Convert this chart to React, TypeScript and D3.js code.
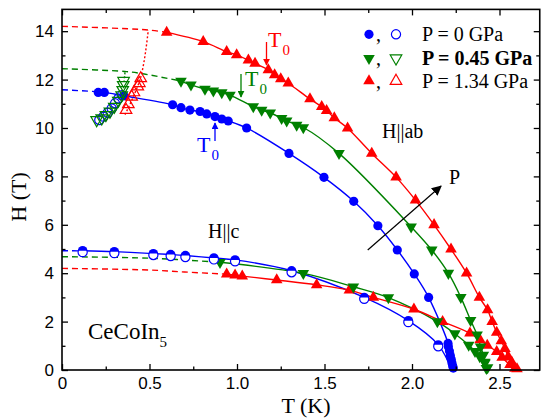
import React, { useEffect, useRef } from 'react';
import * as d3 from 'd3';

type Pt = [number, number]; // [T (K), H (T)]

// H||ab, P = 0 GPa
const abP0: Pt[] = [
  [0.207, 11.47], [0.242, 11.47], [0.354, 11.33], [0.632, 10.96], [0.68, 10.84], [0.731, 10.74],
  [0.789, 10.68], [0.827, 10.58], [0.874, 10.47], [0.913, 10.37], [0.95, 10.29], [1.055, 10.0],
  [1.297, 8.95], [1.497, 7.96], [1.667, 6.97], [1.805, 5.96], [1.916, 4.96], [2.013, 3.97],
  [2.095, 3.0], [2.206, 1.1], [2.208, 0.96], [2.214, 0.78], [2.219, 0.6], [2.224, 0.44],
  [2.228, 0.3], [2.232, 0.18], [2.236, 0.08],
];
const abP0Open: Pt[] = [
  [0.213, 10.33], [0.236, 10.47], [0.261, 10.63], [0.284, 10.81], [0.303, 11.02], [0.322, 11.22], [0.341, 11.36],
];
const abP0Dash: Pt[] = [[0, 11.58], [0.207, 11.5]];

// H||ab, P = 0.45 GPa
const abP045: Pt[] = [
  [0.68, 11.94], [0.737, 11.78], [0.817, 11.61], [0.865, 11.54], [0.913, 11.46], [0.96, 11.36],
  [1.093, 10.88], [1.141, 10.74], [1.19, 10.63], [1.255, 10.4], [1.284, 10.3], [1.341, 10.12],
  [1.379, 10.02], [1.583, 8.95], [1.995, 5.92], [2.113, 4.96], [2.208, 4.0], [2.279, 3.0],
  [2.335, 2.05], [2.372, 1.45], [2.392, 0.96], [2.408, 0.62], [2.417, 0.3], [2.425, 0.07],
];
const abP045Open: Pt[] = [
  [0.198, 10.33], [0.227, 10.4], [0.251, 10.54], [0.274, 10.68], [0.299, 10.88], [0.322, 11.13],
  [0.341, 11.36], [0.347, 11.57], [0.35, 11.78], [0.352, 11.95],
];
const abP045Dash: Pt[] = [[0, 12.45], [0.37, 12.33], [0.47, 12.23], [0.68, 11.94]];
const abP045Dot: Pt[] = [[0.36, 12.3], [0.355, 11.95]];

// H||ab, P = 1.34 GPa
const abP134: Pt[] = [
  [0.598, 13.95], [0.807, 13.57], [0.941, 13.15], [0.998, 13.02], [1.065, 12.8], [1.103, 12.67],
  [1.179, 12.4], [1.215, 12.19], [1.25, 12.03], [1.293, 11.85], [1.417, 11.2], [1.484, 10.88],
  [1.512, 10.72], [1.556, 10.42], [1.632, 9.99], [1.77, 8.95], [1.909, 7.97], [2.02, 7.02],
  [2.126, 6.0], [2.223, 4.99], [2.312, 4.0], [2.385, 3.0], [2.432, 2.48], [2.458, 2.0],
  [2.484, 1.55], [2.51, 1.2], [2.531, 0.88], [2.55, 0.55], [2.57, 0.32], [2.588, 0.07],
];
const abP134Open: Pt[] = [
  [0.366, 10.74], [0.379, 10.98], [0.398, 11.29], [0.411, 11.47], [0.433, 11.71], [0.442, 11.85], [0.45, 12.05],
];
const abP134Dash: Pt[] = [[0, 14.2], [0.493, 14.05], [0.598, 13.95]];
const abP134Dot: Pt[] = [[0.36, 10.55], [0.45, 12.1], [0.493, 14.05]];

// H||c, P = 0 GPa
const cP0: Pt[] = [
  [0.118, 4.93], [0.299, 4.89], [0.522, 4.81], [0.621, 4.77], [0.705, 4.73], [0.868, 4.63],
  [0.989, 4.55], [1.312, 4.1], [1.727, 3.0], [1.979, 2.04], [2.15, 1.04],
];
const cP0Open: Pt[] = [
  [0.118, 4.87], [0.299, 4.83], [0.522, 4.75], [0.621, 4.71], [0.705, 4.67], [0.868, 4.57],
  [0.989, 4.49], [1.312, 4.04], [1.727, 2.94], [1.979, 1.98], [2.15, 0.98],
];
const cP0End: Pt[] = [[2.228, 0.0]];
const cP0Dash: Pt[] = [[0, 4.93], [0.118, 4.92]];

// H||c, P = 0.45 GPa
const cP045: Pt[] = [
  [0.903, 4.45], [1.379, 3.99], [1.665, 3.44], [1.865, 2.99], [2.145, 2.0], [2.245, 1.5],
  [2.324, 1.03], [2.36, 0.77], [2.387, 0.56], [2.415, 0.33], [2.432, 0.1],
];
const cP045Dash: Pt[] = [[0, 4.68], [0.5, 4.62], [0.903, 4.45]];

// H||c, P = 1.34 GPa
const cP134: Pt[] = [
  [0.941, 3.96], [0.989, 3.92], [1.03, 3.88], [1.227, 3.72], [1.455, 3.52], [1.642, 3.3],
  [1.779, 3.0], [2.011, 2.51], [2.175, 2.0], [2.331, 1.52], [2.389, 1.24], [2.43, 1.02],
  [2.484, 0.76], [2.515, 0.52], [2.56, 0.22], [2.6, 0.04],
];
const cP134Dash: Pt[] = [[0, 4.2], [0.5, 4.13], [0.7, 4.05], [0.941, 3.96]];

const xTicks = [0, 0.5, 1.0, 1.5, 2.0, 2.5];
const xMinor = [0.25, 0.75, 1.25, 1.75, 2.25, 2.75];
const yTicks = [0, 2, 4, 6, 8, 10, 12, 14];
const yMinor = [1, 3, 5, 7, 9, 11, 13];

const legendLabels = ['P = 0 GPa', 'P = 0.45 GPa', 'P = 1.34 GPa'];

const BLUE = '#0000ff';
const GREEN = '#008000';
const RED = '#ff0000';
const SERIF = '"Liberation Serif", "Times New Roman", serif';
const SANS = '"Liberation Sans", Arial, sans-serif';

const App: React.FC = () => {
  const ref = useRef<SVGSVGElement | null>(null);

  useEffect(() => {
    if (!ref.current) return;
    const svg = d3.select(ref.current);
    svg.selectAll('*').remove();

    const x = d3.scaleLinear().domain([0, 2.73]).range([62, 539.75]);
    const y = d3.scaleLinear().domain([0, 14.9]).range([370, 9.4]);
    const [x0, x1] = x.range();
    const [y0, y1] = y.range();

    const line = d3.line<Pt>()
      .x(d => x(d[0]))
      .y(d => y(d[1]))
      .curve(d3.curveCatmullRom.alpha(0.5));

    const drawLine = (pts: Pt[], color: string, dash?: string) => {
      svg.append('path')
        .datum(pts)
        .attr('fill', 'none')
        .attr('stroke', color)
        .attr('stroke-width', 1.4)
        .attr('stroke-dasharray', dash || null)
        .attr('d', line);
    };

    const circle = d3.symbol().type(d3.symbolCircle).size(66);
    const tri = d3.symbol().type(d3.symbolTriangle).size(58);
    // upper half of a disc, for the half-filled H||c markers
    const halfDisc = 'M-4.7,0A4.7,4.7 0 0 1 4.7,0Z';

    const drawMarks = (pts: Pt[], shape: 'circle' | 'up' | 'down' | 'half', color: string, open: boolean, openFill = 'none') => {
      const path = shape === 'circle' ? circle() : shape === 'half' ? halfDisc : tri();
      svg.append('g')
        .selectAll('path')
        .data(pts)
        .join('path')
        .attr('d', path as string)
        .attr('transform', p => `translate(${x(p[0])},${y(p[1])})${shape === 'down' ? ' rotate(180)' : ''}`)
        .attr('fill', open ? openFill : color)
        .attr('stroke', color)
        .attr('stroke-width', open ? 1.2 : 0);
    };

    // dashed / dotted extrapolations
    drawLine(abP0Dash, BLUE, '6,4');
    drawLine(abP045Dash, GREEN, '6,4');
    drawLine(abP134Dash, RED, '6,4');
    drawLine(abP045Dot, GREEN, '2,2');
    drawLine(abP134Dot, RED, '2,2');
    drawLine(cP0Dash, BLUE, '6,4');
    drawLine(cP045Dash, GREEN, '6,4');
    drawLine(cP134Dash, RED, '6,4');

    // solid curves
    drawLine(abP0, BLUE);
    drawLine(abP045, GREEN);
    drawLine(abP134, RED);
    drawLine([...cP0, ...cP0End], BLUE);
    drawLine(cP045, GREEN);
    drawLine(cP134, RED);

    // markers
    drawMarks(cP134, 'up', RED, false);
    drawMarks(cP045, 'down', GREEN, false);
    drawMarks(cP0Open, 'circle', BLUE, true, '#ffffff');
    drawMarks(cP0, 'half', BLUE, false);
    drawMarks(abP0, 'circle', BLUE, false);
    drawMarks(abP045, 'down', GREEN, false);
    drawMarks(abP134, 'up', RED, false);
    drawMarks(abP0Open, 'circle', BLUE, true);
    drawMarks(abP045Open, 'down', GREEN, true);
    drawMarks(abP134Open, 'up', RED, true);

    // axes
    const fmt = (d: d3.NumberValue) => (+d === 0 ? '0' : d3.format('.1f')(+d));
    const styleAxis = (g: d3.Selection<SVGGElement, unknown, null, undefined>) => {
      g.select('.domain').remove();
      g.selectAll('line').attr('stroke', '#000').attr('stroke-width', 1.3);
      g.selectAll('text').attr('font-family', SANS).attr('font-size', 17).attr('fill', '#000');
    };

    svg.append('g').attr('transform', `translate(0,${y0})`)
      .call(d3.axisBottom(x).tickValues(xTicks).tickFormat(fmt).tickSizeInner(-6).tickSizeOuter(0).tickPadding(7))
      .call(styleAxis);
    svg.append('g').attr('transform', `translate(0,${y0})`)
      .call(d3.axisBottom(x).tickValues(xMinor).tickFormat(() => '').tickSizeInner(-3.5).tickSizeOuter(0))
      .call(styleAxis);
    svg.append('g').attr('transform', `translate(0,${y1})`)
      .call(d3.axisTop(x).tickValues(xTicks).tickFormat(() => '').tickSizeInner(-6).tickSizeOuter(0))
      .call(styleAxis);
    svg.append('g').attr('transform', `translate(0,${y1})`)
      .call(d3.axisTop(x).tickValues(xMinor).tickFormat(() => '').tickSizeInner(-3.5).tickSizeOuter(0))
      .call(styleAxis);
    svg.append('g').attr('transform', `translate(${x0},0)`)
      .call(d3.axisLeft(y).tickValues(yTicks).tickFormat(d3.format('d') as any).tickSizeInner(-6).tickSizeOuter(0).tickPadding(8))
      .call(styleAxis);
    svg.append('g').attr('transform', `translate(${x0},0)`)
      .call(d3.axisLeft(y).tickValues(yMinor).tickFormat(() => '').tickSizeInner(-3.5).tickSizeOuter(0))
      .call(styleAxis);
    svg.append('g').attr('transform', `translate(${x1},0)`)
      .call(d3.axisRight(y).tickValues(yTicks).tickFormat(() => '').tickSizeInner(-6).tickSizeOuter(0))
      .call(styleAxis);
    svg.append('g').attr('transform', `translate(${x1},0)`)
      .call(d3.axisRight(y).tickValues(yMinor).tickFormat(() => '').tickSizeInner(-3.5).tickSizeOuter(0))
      .call(styleAxis);

    svg.append('rect')
      .attr('x', x0).attr('y', y1)
      .attr('width', x1 - x0).attr('height', y0 - y1)
      .attr('fill', 'none').attr('stroke', '#000').attr('stroke-width', 1.6);

    // axis titles
    svg.append('text')
      .attr('transform', `translate(26,197) rotate(-90)`)
      .attr('text-anchor', 'middle')
      .attr('font-family', SERIF).attr('font-size', 22)
      .text('H (T)');
    svg.append('text')
      .attr('x', 306).attr('y', 413)
      .attr('text-anchor', 'middle')
      .attr('font-family', SERIF).attr('font-size', 22)
      .text('T (K)');

    // labels
    const label = (tx: number, ty: number, s: string, size = 20, color = '#000') =>
      svg.append('text').attr('x', tx).attr('y', ty)
        .attr('font-family', SERIF).attr('font-size', size).attr('fill', color).text(s);

    label(382, 138, 'H||ab');
    label(208, 238, 'H||c');
    label(449, 184, 'P');
    const ce = label(88, 339, 'CeCoIn', 23);
    ce.append('tspan').attr('font-size', 15).attr('dy', 8).text('5');

    // arrowheads
    const defs = svg.append('defs');
    const mk = (id: string, color: string, size: number) =>
      defs.append('marker').attr('id', id).attr('viewBox', '0 0 10 10')
        .attr('refX', 9).attr('refY', 5).attr('markerWidth', size).attr('markerHeight', size)
        .attr('orient', 'auto-start-reverse').attr('markerUnits', 'userSpaceOnUse')
        .append('path').attr('d', 'M0,0L10,5L0,10z').attr('fill', color);
    mk('arrK', '#000', 10);
    mk('arrR', RED, 7);
    mk('arrG', GREEN, 7);
    mk('arrB', BLUE, 7);

    // pressure arrow
    svg.append('line')
      .attr('x1', x(1.747)).attr('y1', y(4.96))
      .attr('x2', x(2.166)).attr('y2', y(7.6))
      .attr('stroke', '#000').attr('stroke-width', 1.2)
      .attr('marker-end', 'url(#arrK)');

    // T0 annotations
    const t0 = (tx: number, ty: number, color: string) => {
      const t = label(tx, ty, 'T', 22, color);
      t.append('tspan').attr('font-size', 15).attr('dx', 1).attr('dy', 8).text('0');
    };
    const vArrow = (ax: number, ya: number, yb: number, color: string, id: string) =>
      svg.append('line').attr('x1', ax).attr('x2', ax).attr('y1', ya).attr('y2', yb)
        .attr('stroke', color).attr('stroke-width', 1.3).attr('marker-end', `url(#${id})`);

    t0(268, 47, RED);
    vArrow(266.5, 42, 65, RED, 'arrR');
    t0(245, 86, GREEN);
    vArrow(241, 74, 97, GREEN, 'arrG');
    t0(197, 152, BLUE);
    vArrow(215, 141, 123, BLUE, 'arrB');

    // legend
    const rows = [34.3, 58.3, 81];
    const colors = [BLUE, GREEN, RED];
    const shapes = [circle, tri, tri];
    rows.forEach((ry, i) => {
      const rot = i === 1 ? ' rotate(180)' : '';
      svg.append('path').attr('d', shapes[i]())
        .attr('transform', `translate(369,${ry})${rot}`).attr('fill', colors[i]);
      svg.append('path').attr('d', shapes[i]())
        .attr('transform', `translate(396,${ry})${rot}`)
        .attr('fill', 'none').attr('stroke', colors[i]).attr('stroke-width', 1.2);
      label(376, ry + 7, ',', 20);
      label(422, ry + 6.5, legendLabels[i], 20).attr('font-weight', i === 1 ? 'bold' : 'normal');
    });
  }, []);

  return (
    <svg
      ref={ref}
      width={541}
      height={420}
      style={{ position: 'absolute', left: 0, top: 0, background: '#fff' }}
    />
  );
};

export default App;
